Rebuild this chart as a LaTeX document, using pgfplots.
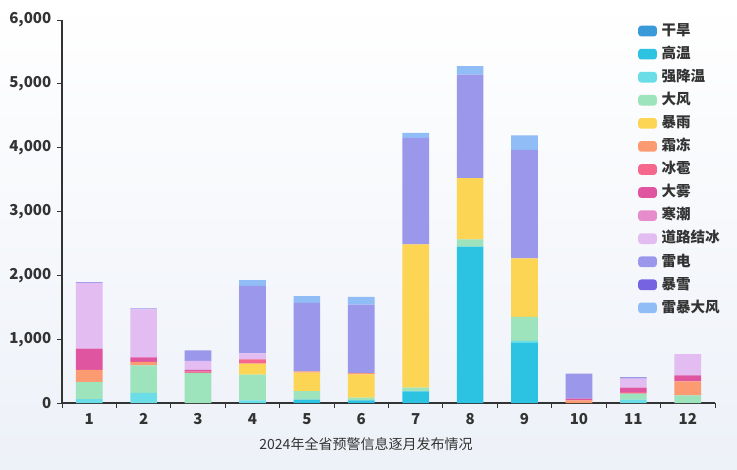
\documentclass[border=0pt]{standalone}
\usepackage{fontspec}
\setmainfont{Noto Sans CJK SC}
\usepackage{pgfplots}
\pgfplotsset{compat=1.18}
\definecolor{cGH}{HTML}{3A9AD9}
\definecolor{cGW}{HTML}{2CC3E2}
\definecolor{cQJW}{HTML}{6BDDE6}
\definecolor{cDF}{HTML}{9DE3BB}
\definecolor{cBY}{HTML}{FDD554}
\definecolor{cSD}{HTML}{FC9B72}
\definecolor{cBB}{HTML}{F5678C}
\definecolor{cDW}{HTML}{DF559F}
\definecolor{cHC}{HTML}{E68CCC}
\definecolor{cDL}{HTML}{E3BCF1}
\definecolor{cLD}{HTML}{9B98EC}
\definecolor{cBX}{HTML}{7563E2}
\definecolor{cLB}{HTML}{90BDF6}
\definecolor{bgB}{HTML}{EDF1F8}
\definecolor{txt}{HTML}{333333}
\pgfplotsset{
  sw/.style={fill=#1, draw=none,
    legend image code/.code={\fill[##1, rounded corners=2.2pt] (0pt,-3.8pt) rectangle (14pt,4.2pt);}},
}
\begin{document}
\begin{tikzpicture}
\shade[top color=white, bottom color=bgB] (0,0) rectangle (552.75pt,351.75pt);
\begin{axis}[
  at={(46.5pt,49.5pt)}, anchor=south west,
  scale only axis, width=489.75pt, height=287.25pt,
  ybar stacked, bar width=20pt,
  xmin=0.5, xmax=12.5, ymin=0, ymax=6000,
  xtick={1,...,12},
  minor xtick={0.5,1.5,...,12.5},
  ytick={0,1000,...,6000},
  axis x line*=bottom, axis y line*=left,
  axis line style={txt, line width=1pt},
  tick align=outside, major tick length=3.5pt, minor tick length=4pt,
  tick style={txt, line width=0.7pt},
  major x tick style={draw=none},
  /pgf/number format/.cd, 1000 sep={,}, assume math mode=true,
  /pgfplots/.cd,
  yticklabel style={font=\bfseries\fontsize{11.3}{12}\selectfont, text=txt, xshift=-1pt},
  xticklabel style={font=\bfseries\fontsize{11.3}{12}\selectfont, text=txt, yshift=-1pt},
  legend cell align=left,
  legend style={at={(0.882,0.992)}, anchor=north west, draw=none, fill=none,
    inner sep=0pt, row sep=5.3pt,
    font=\bfseries\fontsize{10.9}{12}\selectfont,
    nodes={inner sep=1pt, text height=8pt, text depth=2pt, text=txt},
    /tikz/every odd column/.append style={column sep=2.5pt}},
  clip=false,
]
\addplot[sw=cGH] coordinates {(1,0)(2,0)(3,0)(4,0)(5,0)(6,0)(7,0)(8,0)(9,0)(10,0)(11,0)(12,0)};
\addlegendentry{干旱}
\addplot[sw=cGW] coordinates {(1,0)(2,0)(3,0)(4,0)(5,52)(6,42)(7,183)(8,2450)(9,942)(10,0)(11,0)(12,0)};
\addlegendentry{高温}
\addplot[sw=cQJW] coordinates {(1,60)(2,157)(3,0)(4,40)(5,0)(6,0)(7,0)(8,0)(9,30)(10,0)(11,52)(12,0)};
\addlegendentry{强降温}
\addplot[sw=cDF] coordinates {(1,266)(2,434)(3,471)(4,403)(5,136)(6,42)(7,58)(8,115)(9,378)(10,0)(11,94)(12,120)};
\addlegendentry{大风}
\addplot[sw=cBY] coordinates {(1,0)(2,0)(3,0)(4,173)(5,288)(6,366)(7,2246)(8,958)(9,916)(10,0)(11,0)(12,0)};
\addlegendentry{暴雨}
\addplot[sw=cSD] coordinates {(1,193)(2,52)(3,0)(4,0)(5,20)(6,20)(7,0)(8,0)(9,0)(10,42)(11,0)(12,220)};
\addlegendentry{霜冻}
\addplot[sw=cBB] coordinates {(1,0)(2,0)(3,20)(4,68)(5,0)(6,0)(7,0)(8,0)(9,0)(10,0)(11,26)(12,0)};
\addlegendentry{冰雹}
\addplot[sw=cDW] coordinates {(1,334)(2,73)(3,30)(4,0)(5,0)(6,0)(7,0)(8,0)(9,0)(10,26)(11,68)(12,94)};
\addlegendentry{大雾}
\addplot[sw=cHC] coordinates {(1,0)(2,0)(3,0)(4,0)(5,0)(6,0)(7,0)(8,0)(9,0)(10,0)(11,0)(12,0)};
\addlegendentry{寒潮}
\addplot[sw=cDL] coordinates {(1,1030)(2,750)(3,141)(4,94)(5,0)(6,0)(7,0)(8,0)(9,0)(10,0)(11,141)(12,330)};
\addlegendentry{道路结冰}
\addplot[sw=cLD] coordinates {(1,12)(2,18)(3,162)(4,1057)(5,1073)(6,1073)(7,1665)(8,1623)(9,1701)(10,393)(11,26)(12,0)};
\addlegendentry{雷电}
\addplot[sw=cBX] coordinates {(1,0)(2,0)(3,0)(4,0)(5,0)(6,0)(7,0)(8,0)(9,0)(10,0)(11,0)(12,0)};
\addlegendentry{暴雪}
\addplot[sw=cLB] coordinates {(1,0)(2,0)(3,0)(4,89)(5,105)(6,120)(7,79)(8,131)(9,225)(10,0)(11,0)(12,0)};
\addlegendentry{雷暴大风}
\node[font=\fontsize{10.5}{12}\selectfont, text=txt] at (rel axis cs:0.4655,0) [yshift=-30.5pt] {2024年全省预警信息逐月发布情况};
\end{axis}
\end{tikzpicture}
\end{document}
